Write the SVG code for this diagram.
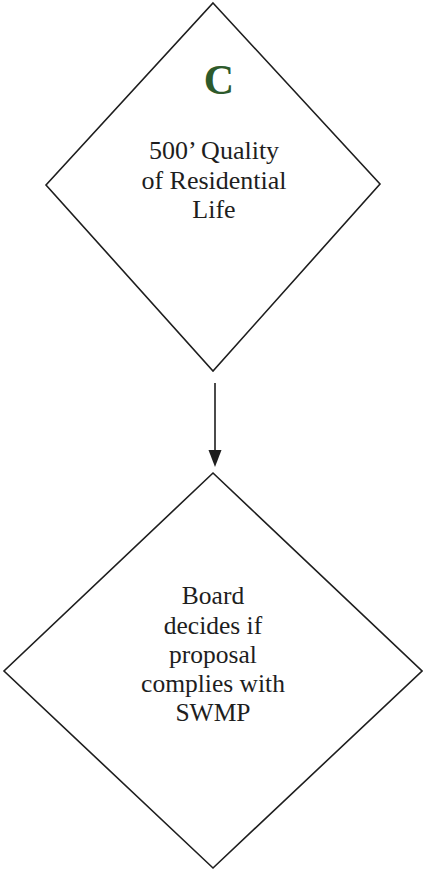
<svg xmlns="http://www.w3.org/2000/svg" width="423" height="873" viewBox="0 0 423 873">
<style>
.shape{fill:#ffffff;stroke:#1e1e1e;stroke-width:1.6;stroke-linejoin:miter}
.lbl{font-family:"Liberation Serif","Times New Roman",serif;fill:#1e1e1e;text-anchor:middle}
.conn{stroke:#1e1e1e;stroke-width:1.6;fill:none}
.head{fill:#1e1e1e}
</style>
<rect width="423" height="873" fill="#ffffff"/>
<g id="node-c">
<polygon class="shape" points="213,3 380,184 213,371 46,185"/>
<text x="219" y="94" class="lbl" style="font-size:42px;font-weight:bold;fill:#2d5a2b">C</text>
<text class="lbl" style="font-size:26px"><tspan x="214" y="159">500’ Quality</tspan><tspan x="214" y="188.5">of Residential</tspan><tspan x="214" y="218">Life</tspan></text>
</g>
<g id="node-board">
<polygon class="shape" points="213,473 422,671 213,868 4,671"/>
<text class="lbl" style="font-size:25.5px"><tspan x="213" y="604">Board</tspan><tspan x="213" y="633.5">decides if</tspan><tspan x="213" y="663">proposal</tspan><tspan x="213" y="692">complies with</tspan><tspan x="213" y="721">SWMP</tspan></text>
</g>
<g id="connectors">
<line class="conn" x1="215" y1="383" x2="215" y2="452"/>
<polygon class="head" points="208.5,450 221.5,450 215,467"/>
</g>
</svg>
